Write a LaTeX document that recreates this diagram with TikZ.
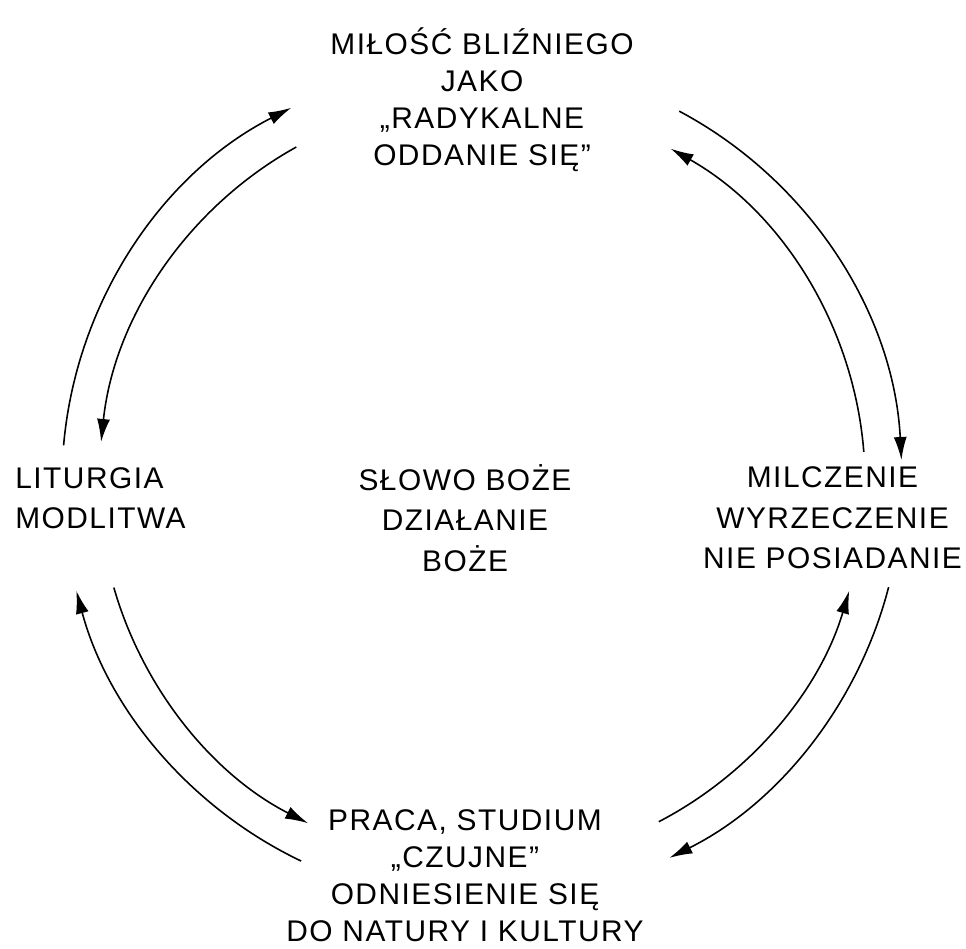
\documentclass[tikz,border=0pt]{standalone}
\usepackage{fontspec}
\setmainfont{Liberation Sans}[LetterSpace=5]
\usetikzlibrary{arrows.meta}

\tikzset{
  flow/.style={line width=0.9pt, -{Latex[length=4.6mm,width=2.6mm]}},
  caption/.style={font=\fontsize{17}{21}\selectfont, align=center, inner sep=0pt},
  midcaption/.style={caption, font=\fontsize{17}{23}\selectfont}
}

\begin{document}
\begin{tikzpicture}
  \useasboundingbox (0,0) rectangle (19.32,18.96);
  \coordinate (c) at (9.64,9.32); % middle of the ring

  % The four stations and the middle
  \node[caption] (love) at (9.64,16.96) {MIŁOŚĆ BLIŹNIEGO\\JAKO\\„RADYKALNE\\ODDANIE SIĘ”};
  \node[midcaption, align=left, anchor=west] (liturgy) at (0.3,9.0) {LITURGIA\\MODLITWA};
  \node[midcaption] (word) at (9.3,8.6) {SŁOWO BOŻE\\DZIAŁANIE\\BOŻE};
  \node[midcaption] (silence) at (16.65,8.6) {MILCZENIE\\WYRZECZENIE\\NIE POSIADANIE};
  \node[caption] (work) at (9.3,1.44) {PRACA, STUDIUM\\„CZUJNE”\\ODNIESIENIE SIĘ\\DO NATURY I KULTURY};

  % Outer arcs, clockwise
  \draw[flow] ([shift={(175:8.4)}]c) arc[start angle=175, end angle=117, radius=8.4];
  \draw[flow] ([shift={(62:8.4)}]c) arc[start angle=62, end angle=3, radius=8.4];
  \draw[flow] ([shift={(-14.5:8.4)}]c) arc[start angle=-14.5, end angle=-63.5, radius=8.4];
  \draw[flow] ([shift={(244.5:8.4)}]c) arc[start angle=244.5, end angle=195, radius=8.4];

  % Inner arcs, counter-clockwise
  \draw[flow] ([shift={(119:7.66)}]c) arc[start angle=119, end angle=174, radius=7.66];
  \draw[flow] ([shift={(4.5:7.66)}]c) arc[start angle=4.5, end angle=60.5, radius=7.66];
  \draw[flow] ([shift={(-62.5:7.66)}]c) arc[start angle=-62.5, end angle=-16.5, radius=7.66];
  \draw[flow] ([shift={(196:7.66)}]c) arc[start angle=196, end angle=243, radius=7.66];
\end{tikzpicture}
\end{document}
